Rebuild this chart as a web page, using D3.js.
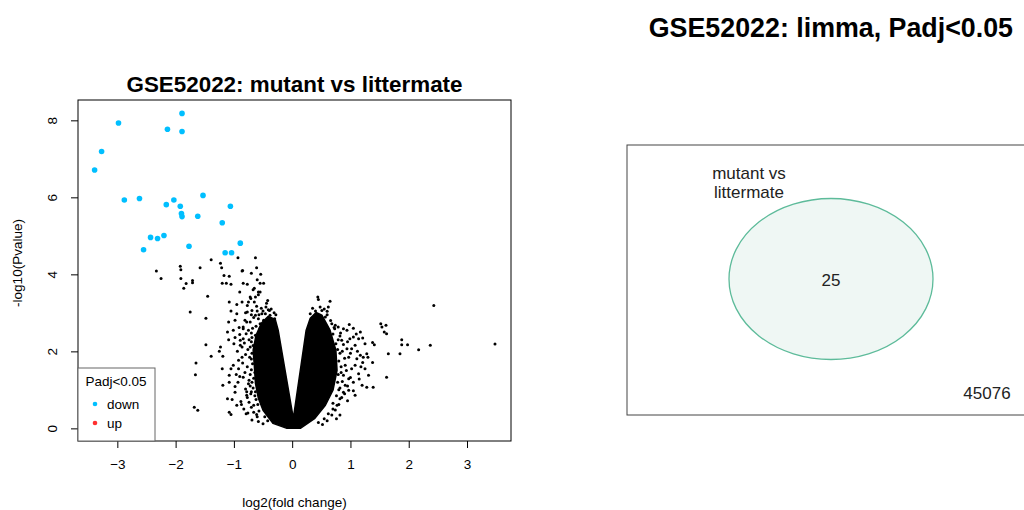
<!DOCTYPE html>
<html lang="en">
<head>
<meta charset="UTF-8">
<title>GSE52022</title>
<script src="https://cdn.jsdelivr.net/npm/d3@7"></script>
<style>
    body { margin: 0; background: #fff; }
    svg { display: block; font-family: "Liberation Sans", Arial, sans-serif; }
</style>
</head>
<body>
<svg id="chart" width="1024" height="510"></svg>
<script>
// significant (down) genes, log2FC and -log10(P)
const downX = [-1.89,-2.98,-2.14,-1.89,-3.27,-3.39,-2.88,-2.62,-1.53,-2.03,-2.16,-1.92,-1.06,-1.90,-1.89,-1.62,-1.20,-2.20,-2.43,-2.31,-0.89,-1.77,-2.55,-1.15,-1.04];
const downY = [8.18,7.93,7.77,7.71,7.19,6.71,5.93,5.97,6.05,5.93,5.81,5.77,5.77,5.58,5.50,5.51,5.34,5.01,4.96,4.93,4.81,4.73,4.64,4.56,4.56];

// scattered non-significant genes outside the dense core
const nsPoints = [
  [-2.33,4.09],[-2.25,3.89],[-1.92,4.21],[-1.91,4.12],[-1.91,3.89],[-1.82,3.76],[-1.86,3.64],[-1.71,3.84],[-1.71,3.78],
  [-1.58,4.17],[-1.39,4.38],[-1.23,4.29],[-1.21,4.17],[-1.17,3.97],[-1.08,3.95],[-1.20,3.77],[-1.13,3.77],[-1.05,3.74],
  [-0.93,4.43],[-0.63,4.43],[-0.61,4.17],[-0.86,4.09],[-0.70,4.03],[-0.54,4.00],[-0.60,3.86],[-0.49,3.77],[-0.84,3.77],
  [-0.77,3.74],[-0.90,3.54],[-0.67,3.60],[-1.45,3.43],[-1.08,3.28],[-0.95,3.22],[-0.86,3.28],[-1.75,3.02],[-1.48,2.86],
  [-1.05,3.05],[-0.95,2.98],[-1.09,2.76],[-0.98,2.81],[-1.11,2.50],[-1.01,2.55],[-1.09,2.30],[-1.48,2.17],[-1.23,2.11],
  [-1.25,2.00],[-1.39,1.87],[-1.19,1.87],[-1.65,1.70],[-1.66,1.39],[-1.20,1.55],[-1.05,1.55],[-1.08,1.38],[-1.01,1.64],
  [-1.19,1.12],[-1.08,1.20],[-0.92,1.77],[-0.92,1.55],[-0.98,1.09],[-1.11,0.77],[-1.03,0.75],[-0.95,0.60],[-0.87,0.62],
  [-0.98,0.94],[-1.68,0.55],[-1.62,0.47],[-1.08,0.42],[-1.05,0.36],[-0.79,0.38],[-0.78,0.86],[-0.77,0.80],[-0.84,1.33],
  [-0.86,2.11],[-0.89,2.29],[-0.84,2.33],[-0.79,2.46],[-0.78,2.76],[-0.84,2.59],[-0.72,2.11],[-0.75,1.16],[-0.66,0.60],
  [-0.61,0.36],[-0.72,3.41],[-0.75,3.28],[-0.63,3.41],[-0.58,3.54],[-0.42,3.32],[-0.41,3.08],[-0.85,4.10],[-0.55,3.77],
  [-0.65,3.64],[-0.55,3.54],[-0.58,3.47],[-0.71,3.37],[-0.65,3.28],[-0.77,3.19],[-0.61,3.17],[-0.45,3.15],[-0.77,3.02],
  [-0.69,3.06],[-0.63,2.94],[-0.52,2.98],[-0.39,3.06],[-0.38,2.94],[-0.81,2.81],[-0.72,2.76],[-0.58,2.85],[-0.49,2.81],
  [-0.84,2.63],[-0.75,2.55],[-0.90,2.44],[-0.98,2.36],[-0.69,2.36],[-0.89,2.16],[-0.70,1.80],[-0.72,1.40],[-0.70,0.95],
  [-0.68,2.60],[-0.70,2.25],[-0.69,1.20],[-0.57,0.45],[-0.47,0.30],[-0.62,0.75],
  [-0.60,0.30],[-0.66,0.42],[-0.70,0.55],[-0.74,0.68],[-0.64,0.85],[-0.71,0.90],[-0.80,1.02],[-0.67,1.05],[-0.74,1.25],
  [-0.66,1.30],[-0.81,1.45],[-0.70,1.52],[-0.77,1.60],[-0.68,1.68],[-0.85,1.70],[-0.73,1.85],[-0.80,1.92],[-0.69,1.95],
  [-0.76,2.05],[-0.67,2.15],[-0.82,2.22],[-0.74,2.30],[-0.63,2.42],[-0.70,2.48],[-0.62,2.65],[-0.55,2.72],[-0.66,2.88],
  [-0.57,2.95],[-0.50,3.05],[-0.46,2.98],[-0.53,3.12],[-0.44,3.25],[-0.36,3.10],[-0.31,3.00],[-0.30,2.85],[-0.90,1.35],
  [-0.93,1.20],[-0.88,0.70],[-0.83,0.50],[-0.76,0.40],[-0.69,0.22],[-0.58,0.18],[-0.50,0.12],[-0.42,0.20],[-0.62,1.90],
  [-0.61,1.20],[-0.63,0.95],[-0.59,0.62],[-0.55,2.60],[-0.58,2.30],[-0.60,1.75],[-0.64,1.45],[-0.72,1.10],[-0.78,0.95],
  [-0.86,1.85],[-0.94,2.00],[-0.96,1.40],[-1.00,2.20],[-0.91,2.62],[-0.80,3.00],[-0.70,2.95],[-0.60,3.05],[-0.28,2.95],
  [-0.33,2.80],
  [0.44,3.41],[0.45,3.35],[0.65,3.30],[0.51,3.06],[0.60,3.04],[0.42,2.94],[0.57,2.89],[0.68,2.72],[0.74,2.68],[0.79,2.63],
  [0.73,2.59],[0.88,2.59],[0.94,2.55],[1.17,2.50],[0.85,2.29],[0.99,2.33],[1.05,2.37],[1.14,2.33],[1.21,2.35],[1.38,2.23],
  [1.41,2.17],[1.25,2.20],[1.08,2.16],[1.02,2.07],[0.94,2.07],[1.28,1.94],[1.30,1.85],[1.17,1.90],[1.11,1.81],[0.97,1.85],
  [0.91,1.64],[1.08,1.64],[1.21,1.71],[1.25,1.55],[1.38,1.71],[1.14,1.42],[1.31,1.38],[0.97,1.29],[1.05,1.20],[1.20,1.12],
  [1.28,1.07],[1.39,1.07],[0.91,1.12],[0.97,0.99],[0.88,0.94],[0.77,0.60],[1.08,0.86],[0.82,0.77],[0.62,0.38],[1.52,2.72],
  [1.54,2.63],[1.61,2.68],[1.58,2.50],[1.62,2.46],[1.62,1.33],[1.65,1.94],[1.85,1.94],[1.88,2.30],[1.88,2.17],[1.98,2.17],
  [2.17,2.04],[2.37,2.16],[2.43,3.19],[3.48,2.19],[0.82,2.40],[0.86,2.00],[0.84,1.45],[0.80,1.00],[0.70,0.50],[0.55,0.25],
  [0.60,0.20],[0.68,0.35],[0.74,0.48],[0.80,0.62],[0.85,0.80],[0.76,0.85],[0.90,0.90],[0.82,1.05],[0.95,1.10],[0.86,1.22],
  [1.00,1.32],[0.88,1.38],[0.79,1.40],[0.93,1.50],[0.84,1.60],[1.02,1.55],[0.80,1.75],[0.90,1.82],[0.82,1.95],[1.00,1.95],
  [0.78,2.05],[0.88,2.18],[0.95,2.25],[0.79,2.30],[0.70,2.45],[0.83,2.48],[0.66,2.80],[0.60,2.95],[0.55,3.10],[0.48,3.15],
  [0.40,3.05],[0.35,3.12],[0.31,2.98],[0.72,2.62],[0.62,3.15],[1.12,2.00],[1.18,1.60],[1.15,1.28],[1.05,0.98],[0.95,0.72],
  [0.70,0.65],[0.52,0.10],[0.45,0.15],[1.22,1.85],[1.10,2.45],[1.05,2.60],[0.98,2.70],[0.75,2.20],[0.78,1.20],[0.82,0.35],
  [0.76,0.25]
];

// outline of the dense V-shaped core of points
const coreX = [-0.09,-0.33,-0.50,-0.58,-0.63,-0.65,-0.67,-0.62,-0.53,-0.41,-0.29,-0.24,0.02,0.24,0.31,0.41,0.51,0.65,0.75,0.77,0.70,0.57,0.39,0.14];
const coreY = [0.00,0.13,0.47,0.78,1.17,1.64,2.03,2.42,2.73,2.91,2.83,2.55,0.26,2.55,2.86,3.01,2.94,2.55,2.03,1.51,0.99,0.60,0.26,0.00];

const xTicks = [-3,-2,-1,0,1,2,3];
const yTicks = [0,2,4,6,8];

const legendLabels = ["down","up"];
const legendColors = ["#00BFFF","#FF3030"];

const vennSets = ["mutant vs", "littermate"];
const vennInside = [25];
const vennOutside = [45076];

const svg = d3.select("#chart");

// ---------- volcano plot ----------
const x = d3.scaleLinear().domain([-3.675, 3.755]).range([78, 511]);
const y = d3.scaleLinear().domain([-0.328, 8.528]).range([441, 100]);

svg.append("text")
    .attr("x", 294.5).attr("y", 92)
    .attr("text-anchor", "middle")
    .attr("font-size", 22.4).attr("font-weight", "bold")
    .text("GSE52022: mutant vs littermate");

const core = d3.line().x((d, i) => x(coreX[i])).y((d, i) => y(coreY[i]));
svg.append("path")
    .attr("d", core(coreX) + "Z")
    .attr("fill", "#000")
    .attr("stroke", "#000")
    .attr("stroke-width", 1.5)
    .attr("stroke-linejoin", "round");

svg.append("g").selectAll("circle")
    .data(nsPoints)
    .join("circle")
    .attr("cx", d => x(d[0]))
    .attr("cy", d => y(d[1]))
    .attr("r", 1.5)
    .attr("fill", "#000");

svg.append("g").selectAll("circle")
    .data(downX)
    .join("circle")
    .attr("cx", d => x(d))
    .attr("cy", (d, i) => y(downY[i]))
    .attr("r", 2.8)
    .attr("fill", legendColors[0]);

// axes (R style)
const xAxis = svg.append("g").attr("transform", "translate(0,441)")
    .call(d3.axisBottom(x).tickValues(xTicks).tickSize(7).tickFormat(d3.format("d")));
xAxis.select(".domain").remove();
xAxis.selectAll("text").attr("font-size", 13.5).attr("dy", "1.35em").attr("fill", "#000")
    .attr("font-family", "Liberation Sans, Arial, sans-serif");

const yAxis = svg.append("g").attr("transform", "translate(78,0)")
    .call(d3.axisLeft(y).tickValues(yTicks).tickSize(7).tickFormat(d3.format("d")));
yAxis.select(".domain").remove();
yAxis.selectAll("text").remove();
yAxis.selectAll(".tick").append("text")
    .attr("transform", "translate(-26,0) rotate(-90)")
    .attr("text-anchor", "middle")
    .attr("dy", "0.35em")
    .attr("font-size", 13.5)
    .attr("fill", "#000")
    .attr("font-family", "Liberation Sans, Arial, sans-serif")
    .text(d => d);

svg.append("rect")
    .attr("x", 78).attr("y", 100).attr("width", 433).attr("height", 341)
    .attr("fill", "none").attr("stroke", "#000");

svg.append("text")
    .attr("x", 294.5).attr("y", 507)
    .attr("text-anchor", "middle").attr("font-size", 13.5)
    .text("log2(fold change)");

svg.append("text")
    .attr("transform", "translate(22,263) rotate(-90)")
    .attr("text-anchor", "middle").attr("font-size", 13.5)
    .text("-log10(Pvalue)");

// legend
const lg = svg.append("g");
lg.append("rect")
    .attr("x", 78).attr("y", 368).attr("width", 77).attr("height", 73)
    .attr("fill", "#fff").attr("stroke", "#666");
lg.append("text")
    .attr("x", 116).attr("y", 386)
    .attr("text-anchor", "middle").attr("font-size", 13.5)
    .text("Padj<0.05");
legendLabels.forEach((lab, i) => {
    lg.append("circle").attr("cx", 95).attr("cy", 404 + i * 19).attr("r", 2.3).attr("fill", legendColors[i]);
    lg.append("text").attr("x", 107).attr("y", 409 + i * 19).attr("font-size", 13.5).text(lab);
});

// ---------- venn diagram ----------
svg.append("text")
    .attr("x", 1013).attr("y", 37)
    .attr("text-anchor", "end")
    .attr("font-size", 26.8).attr("font-weight", "bold")
    .text("GSE52022: limma, Padj<0.05");

svg.append("rect")
    .attr("x", 627).attr("y", 145).attr("width", 420).attr("height", 270)
    .attr("fill", "none").attr("stroke", "#444");

svg.append("ellipse")
    .attr("cx", 831).attr("cy", 279).attr("rx", 102).attr("ry", 80.5)
    .attr("fill", "#EFF7F4").attr("stroke", "#5DBB9A").attr("stroke-width", 1.3);

vennSets.forEach((t, i) => {
    svg.append("text").attr("x", 749).attr("y", 179 + i * 19)
        .attr("text-anchor", "middle").attr("font-size", 17).attr("fill", "#222").text(t);
});
svg.append("text").attr("x", 831).attr("y", 286)
    .attr("text-anchor", "middle").attr("font-size", 17).attr("fill", "#222").text(vennInside[0]);
svg.append("text").attr("x", 987).attr("y", 399)
    .attr("text-anchor", "middle").attr("font-size", 17).attr("fill", "#222").text(vennOutside[0]);
</script>
</body>
</html>
